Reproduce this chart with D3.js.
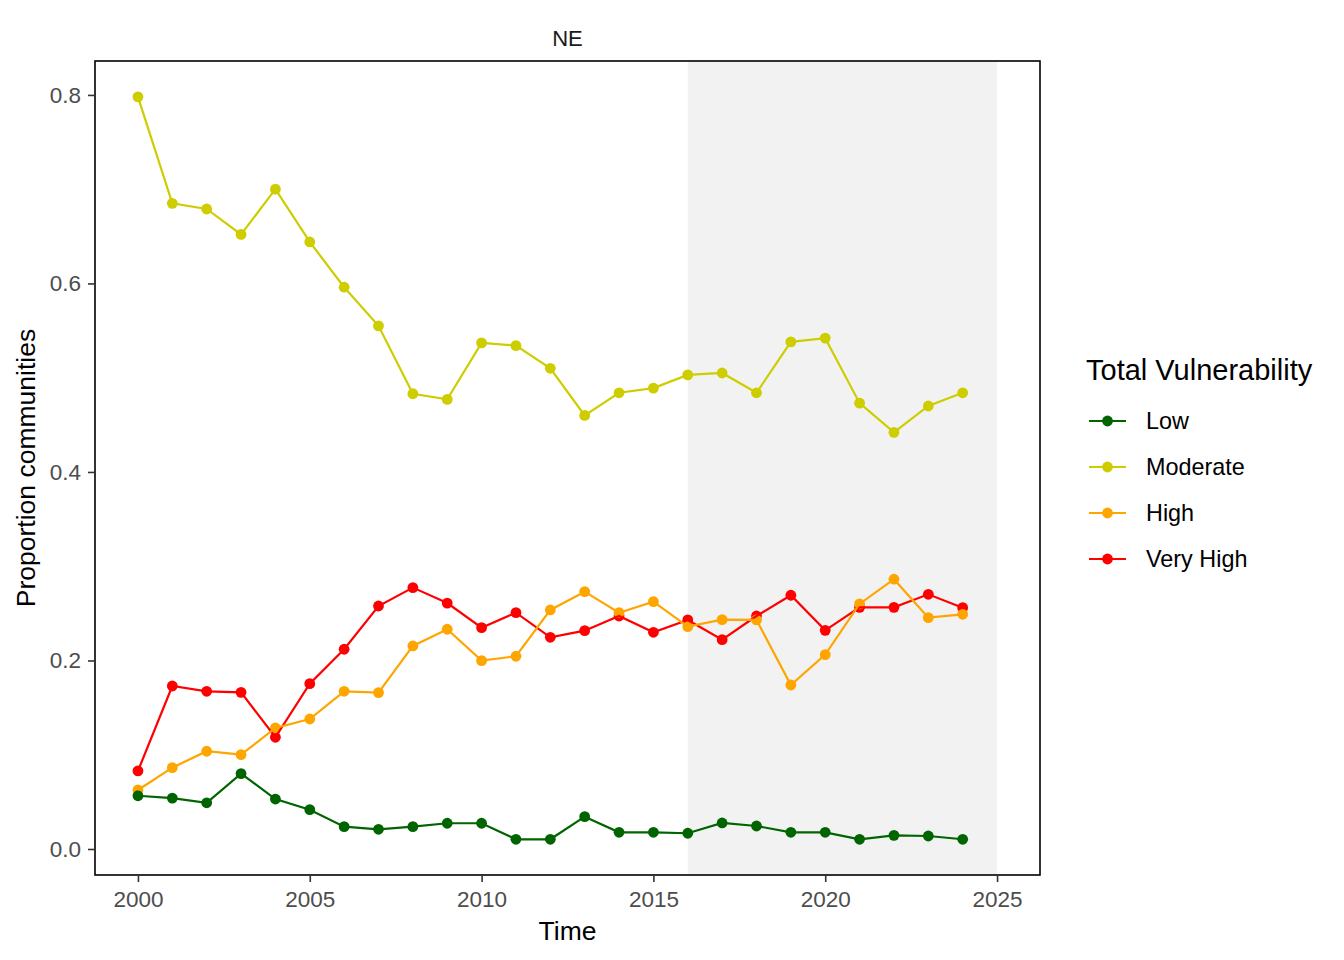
<!DOCTYPE html>
<html><head><meta charset="utf-8">
<script src="https://cdn.jsdelivr.net/npm/d3@7"></script>
<style>body{margin:0;background:#fff}svg text{font-family:"Liberation Sans",Arial,sans-serif}</style>
</head><body>
<svg id="c" width="1344" height="960"></svg>
<script>
const years = d3.range(2000, 2025);
const categories = ["Low","Moderate","High","Very High"];
const colors = ["#006400","#CDCD00","#FFA500","#FF0000"];
const low = [0.0565,0.054,0.049,0.080,0.053,0.0417,0.0237,0.0209,0.0237,0.0273,0.0273,0.0103,0.0103,0.0343,0.0177,0.0177,0.0167,0.0276,0.0244,0.0177,0.0177,0.0103,0.0145,0.0138,0.0103];
const moderate = [0.798,0.685,0.679,0.652,0.700,0.644,0.596,0.555,0.483,0.477,0.537,0.534,0.510,0.460,0.484,0.489,0.503,0.505,0.484,0.538,0.542,0.473,0.442,0.470,0.484];
const high = [0.0626,0.0863,0.1037,0.1001,0.1284,0.1379,0.1673,0.1659,0.2154,0.2331,0.1998,0.2045,0.2536,0.2730,0.2507,0.2624,0.2359,0.2433,0.2430,0.1740,0.2062,0.2600,0.2862,0.2454,0.2490];
const veryHigh = [0.0828,0.1729,0.1673,0.1662,0.1185,0.1754,0.2119,0.2578,0.2773,0.2609,0.2348,0.2507,0.2246,0.2316,0.2472,0.2299,0.2430,0.2221,0.2472,0.2692,0.2320,0.2564,0.2564,0.2702,0.2560];
const seriesValues = [low, moderate, high, veryHigh];
const xTicks = [2000,2005,2010,2015,2020,2025];
const yTicks = [0.0,0.2,0.4,0.6,0.8];
const shadeRange = [2016, 2025];

const svg = d3.select("#c");
const L=95, R=1040, T=61, B=875;
const x = d3.scaleLinear().domain([1998.75, 2026.25]).range([L, R]);
const y = d3.scaleLinear().domain([-0.0276, 0.836]).range([B, T]);

svg.append("rect").attr("x",x(shadeRange[0])).attr("y",T).attr("width",x(shadeRange[1])-x(shadeRange[0])).attr("height",B-T).attr("fill","#f2f2f2");

const series = categories.map((c,i)=>({name:c,color:colors[i],values:years.map((yr,j)=>({x:yr,y:seriesValues[i][j]}))}));
const line = d3.line().x(d=>x(d.x)).y(d=>y(d.y));
const drawOrder = [3,2,1,0];
drawOrder.forEach(i=>{
  const s=series[i];
  svg.append("g").selectAll("circle").data(s.values).join("circle")
    .attr("cx",d=>x(d.x)).attr("cy",d=>y(d.y)).attr("r",5.4).attr("fill",s.color);
});
drawOrder.forEach(i=>{
  const s=series[i];
  svg.append("path").datum(s.values).attr("d",line).attr("fill","none").attr("stroke",s.color).attr("stroke-width",2.2);
});

svg.append("rect").attr("x",L).attr("y",T).attr("width",R-L).attr("height",B-T).attr("fill","none").attr("stroke","#000").attr("stroke-width",1.6);

const xAxis = d3.axisBottom(x).tickValues(xTicks).tickFormat(d3.format("d")).tickSize(7).tickPadding(9);
const gx = svg.append("g").attr("transform",`translate(0,${B})`).call(xAxis);
const yAxis = d3.axisLeft(y).tickValues(yTicks).tickFormat(d3.format(".1f")).tickSize(7).tickPadding(7);
const gy = svg.append("g").attr("transform",`translate(${L},0)`).call(yAxis);
[gx,gy].forEach(g=>{
  g.select(".domain").remove();
  g.selectAll(".tick line").attr("stroke","#333").attr("stroke-width",1.6);
  g.selectAll(".tick text").attr("fill","#4d4d4d").style("font-size","22.5px");
});

svg.append("text").attr("x",(L+R)/2).attr("y",46).attr("text-anchor","middle").style("font-size","22px").attr("fill","#1a1a1a").text("NE");
svg.append("text").attr("x",(L+R)/2).attr("y",940).attr("text-anchor","middle").style("font-size","26.5px").text("Time");
svg.append("text").attr("transform",`translate(35,${(T+B)/2}) rotate(-90)`).attr("text-anchor","middle").style("font-size","26.5px").text("Proportion communities");

const lg = svg.append("g");
lg.append("text").attr("x",1086).attr("y",380).style("font-size","29px").text("Total Vulnerability");
categories.forEach((c,i)=>{
  const yy = 421 + i*46;
  lg.append("line").attr("x1",1089).attr("x2",1126).attr("y1",yy).attr("y2",yy).attr("stroke",colors[i]).attr("stroke-width",2.2);
  lg.append("circle").attr("cx",1107.5).attr("cy",yy).attr("r",5.4).attr("fill",colors[i]);
  lg.append("text").attr("x",1146).attr("y",yy+8).style("font-size","23.4px").text(c);
});
</script>
</body></html>
